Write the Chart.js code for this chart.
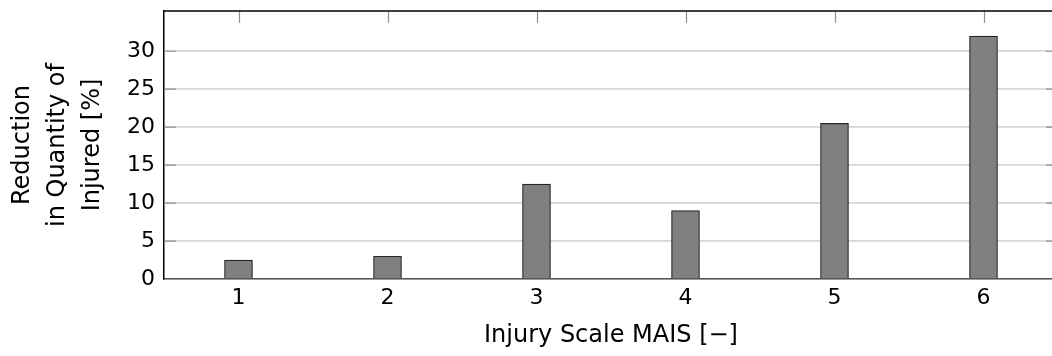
<!DOCTYPE html>
<html>
<head>
<meta charset="utf-8">
<script src="https://cdn.jsdelivr.net/npm/chart.js@4.4.1/dist/chart.umd.min.js"></script>
<style>
  html, body { margin: 0; padding: 0; background: #fff; overflow: hidden; }
  #wrap { width: 1060px; height: 356px; }
</style>
</head>
<body>
<div id="wrap"><canvas id="barChart" width="1060" height="356"></canvas></div>
<script>
// datos del grafico
var maisLevels = ['1', '2', '3', '4', '5', '6'];
var reduction = [2.5, 3, 12.5, 9, 20.5, 32];
var yTicks = [0, 5, 10, 15, 20, 25, 30];

var fontFam = '"DejaVu Sans", "Liberation Sans", Arial, sans-serif';

// marco con marcas hacia dentro (estilo pgfplots)
var framePlugin = {
    id: 'frame',
    afterDraw: function(chart) {
        var ctx = chart.ctx;
        var a = chart.chartArea;
        var xs = chart.scales.x;
        var ys = chart.scales.y;
        ctx.save();
        ctx.strokeStyle = '#909090';
        ctx.lineWidth = 1.2;
        // marcas superiores
        for (var i = 0; i < maisLevels.length; i++) {
            var px = Math.round(xs.getPixelForValue(i)) + 0.5;
            ctx.beginPath();
            ctx.moveTo(px, a.top);
            ctx.lineTo(px, a.top + 12);
            ctx.stroke();
        }
        // marcas izquierda / derecha
        for (var j = 1; j < yTicks.length; j++) {
            var py = ys.getPixelForValue(yTicks[j]);
            ctx.beginPath();
            ctx.moveTo(a.left, py);
            ctx.lineTo(a.left + 12, py);
            ctx.moveTo(a.right - 12, py);
            ctx.lineTo(a.right, py);
            ctx.stroke();
        }
        ctx.strokeStyle = '#000';
        ctx.lineWidth = 1.5;
        ctx.beginPath();
        ctx.moveTo(a.left, a.top);
        ctx.lineTo(a.right, a.top);
        ctx.lineTo(a.right, a.bottom);
        ctx.stroke();
        ctx.restore();
    }
};

var ctx = document.getElementById('barChart').getContext('2d');
window.myBarChart = new Chart(ctx, {
    type: 'bar',
    data: {
        labels: maisLevels,
        datasets: [{
            label: 'Reduction',
            data: reduction,
            backgroundColor: '#808080',
            borderColor: '#262626',
            borderWidth: 1.2,
            barThickness: 28
        }]
    },
    options: {
        responsive: false,
        animation: false,
        layout: {
            padding: { left: 0, right: 2, top: 11, bottom: 0 }
        },
        plugins: {
            legend: { display: false },
            tooltip: { enabled: false }
        },
        scales: {
            x: {
                type: 'category',
                grid: { display: false, drawTicks: false },
                border: { color: '#555', width: 1.4 },
                ticks: { color: '#000', font: { family: fontFam, size: 22 }, padding: 6 },
                title: {
                    display: true,
                    text: 'Injury Scale MAIS [\u2212]',
                    color: '#000',
                    font: { family: fontFam, size: 24 },
                    padding: { top: 0, bottom: 6 }
                },
                afterFit: function(scale) {
                    scale.height = 77;
                    scale.paddingLeft = 0;
                    scale.paddingRight = 0;
                }
            },
            y: {
                min: 0,
                max: 35.3,
                afterBuildTicks: function(scale) {
                    scale.ticks = yTicks.map(function(v) { return { value: v }; });
                },
                grid: { color: '#d6d6d6', lineWidth: 1.8, drawTicks: false },
                border: { color: '#000', width: 1.5 },
                ticks: { color: '#000', font: { family: fontFam, size: 22 }, padding: 9 },
                title: {
                    display: true,
                    text: ['Reduction', 'in Quantity of', 'Injured [%]'],
                    color: '#000',
                    font: { family: fontFam, size: 24, lineHeight: 1.46 },
                    padding: { top: 5, bottom: 0 }
                },
                afterFit: function(scale) {
                    scale.width = 164;
                    scale.paddingTop = 0;
                    scale.paddingBottom = 0;
                }
            }
        }
    },
    plugins: [framePlugin]
});
</script>
</body>
</html>
